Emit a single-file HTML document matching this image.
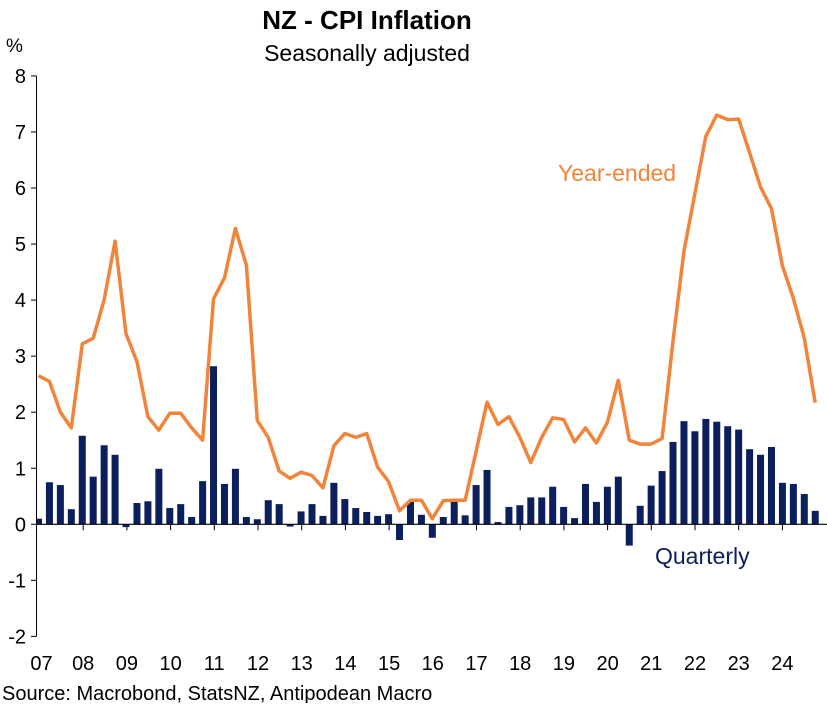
<!DOCTYPE html>
<html><head><meta charset="utf-8"><style>
html,body{margin:0;padding:0;background:#fff;}
svg text{font-family:"Liberation Sans",Arial,sans-serif;}
</style></head><body>
<svg width="827" height="703" viewBox="0 0 827 703" xmlns="http://www.w3.org/2000/svg">
<text x="367" y="29" text-anchor="middle" font-size="26" font-weight="bold" fill="#000">NZ - CPI Inflation</text>
<text x="367" y="61" text-anchor="middle" font-size="23" fill="#000">Seasonally adjusted</text>
<text x="6" y="52" font-size="19" fill="#000">%</text>
<g id="yaxis"></g>
<g id="xaxis"></g>
<defs><clipPath id="plotclip"><rect x="37" y="60" width="790" height="600"/></clipPath></defs>
<g id="bars" clip-path="url(#plotclip)"></g>
<g id="zeroline"></g>
<g id="line"></g>
<text x="558" y="181" font-size="23" fill="#F0843A">Year-ended</text>
<text x="655" y="564" font-size="23" fill="#0B1F5C">Quarterly</text>
<text x="2" y="700" font-size="20" fill="#000">Source: Macrobond, StatsNZ, Antipodean Macro</text>
</svg>
<script>
const yTicks=[8,7,6,5,4,3,2,1,0,-1,-2];
const yearLabels=["07","08","09","10","11","12","13","14","15","16","17","18","19","20","21","22","23","24"];
const quarterly=[0.10,0.75,0.70,0.27,1.58,0.85,1.41,1.24,-0.05,0.38,0.41,0.99,0.29,0.36,0.13,0.77,2.82,0.72,0.99,0.13,0.09,0.43,0.36,-0.04,0.23,0.36,0.15,0.74,0.45,0.29,0.22,0.15,0.18,-0.28,0.40,0.17,-0.24,0.13,0.41,0.16,0.70,0.97,0.04,0.31,0.34,0.48,0.48,0.67,0.31,0.11,0.72,0.40,0.67,0.85,-0.38,0.33,0.69,0.95,1.47,1.84,1.66,1.88,1.83,1.75,1.69,1.34,1.24,1.38,0.74,0.72,0.54,0.24];
const yearEnded=[2.65,2.55,2.0,1.72,3.22,3.32,4.0,5.05,3.4,2.9,1.92,1.68,1.98,1.98,1.72,1.5,4.02,4.4,5.28,4.62,1.85,1.55,0.95,0.82,0.93,0.87,0.65,1.4,1.62,1.55,1.62,1.02,0.76,0.24,0.43,0.43,0.1,0.42,0.43,0.43,1.3,2.18,1.78,1.92,1.55,1.10,1.55,1.90,1.87,1.47,1.72,1.45,1.82,2.57,1.50,1.43,1.43,1.53,3.27,4.88,5.9,6.92,7.3,7.22,7.23,6.63,6.02,5.63,4.61,4.03,3.32,2.17];
const NS="http://www.w3.org/2000/svg";
const x0=38.5, qw=10.94, axisX=36.5, yearW=43.7;
function yS(v){return 524.3-v*56.05;}
function xS(i){return x0+i*qw;}
function mk(tag,attrs,parent){const e=document.createElementNS(NS,tag);for(const k in attrs)e.setAttribute(k,attrs[k]);parent.appendChild(e);return e;}
const ya=document.getElementById('yaxis');
mk('line',{x1:axisX,x2:axisX,y1:yS(8),y2:yS(-2),stroke:'#000','stroke-width':1},ya);
yTicks.forEach(t=>{
 const tl=mk('line',{x1:31,x2:axisX,y1:yS(t),y2:yS(t),stroke:'#000','stroke-width':1},ya);
 
 
 const tx=mk('text',{x:26,y:yS(t)+7,'text-anchor':'end','font-size':20,fill:'#000'},ya);
 tx.textContent=t;
 
 
});
const xa=document.getElementById('xaxis');
yearLabels.forEach((l,i)=>{
 const xx=axisX+3+i*yearW;
 if(i>0){const tk=mk('line',{x1:xx,x2:xx,y1:yS(0),y2:yS(0)+6,stroke:'#000','stroke-width':1},xa);
 
 }
 const tx=mk('text',{x:xx+(i==0?2:0),y:670,'text-anchor':'middle','font-size':20,fill:'#000'},xa);
 tx.textContent=l;
 
 
});
const bg=document.getElementById('bars');
quarterly.forEach((v,i)=>{
 const y1=yS(Math.max(v,0)),y2=yS(Math.min(v,0));
 const r=mk('rect',{x:xS(i)-3.5,y:y1,width:7,height:Math.max(y2-y1,1),fill:'#0B1F5C'},bg);
 
 
});
mk('line',{x1:axisX,x2:827,y1:yS(0),y2:yS(0),stroke:'#000','stroke-width':1.2},document.getElementById('zeroline'));
const pts=yearEnded.map((v,i)=>xS(i).toFixed(1)+','+yS(v).toFixed(1)).join(' ');
const pl=mk('polyline',{points:pts,fill:'none',stroke:'#F0843A','stroke-width':3.5,'stroke-linejoin':'round'},document.getElementById('line'));


</script>
</body></html>
